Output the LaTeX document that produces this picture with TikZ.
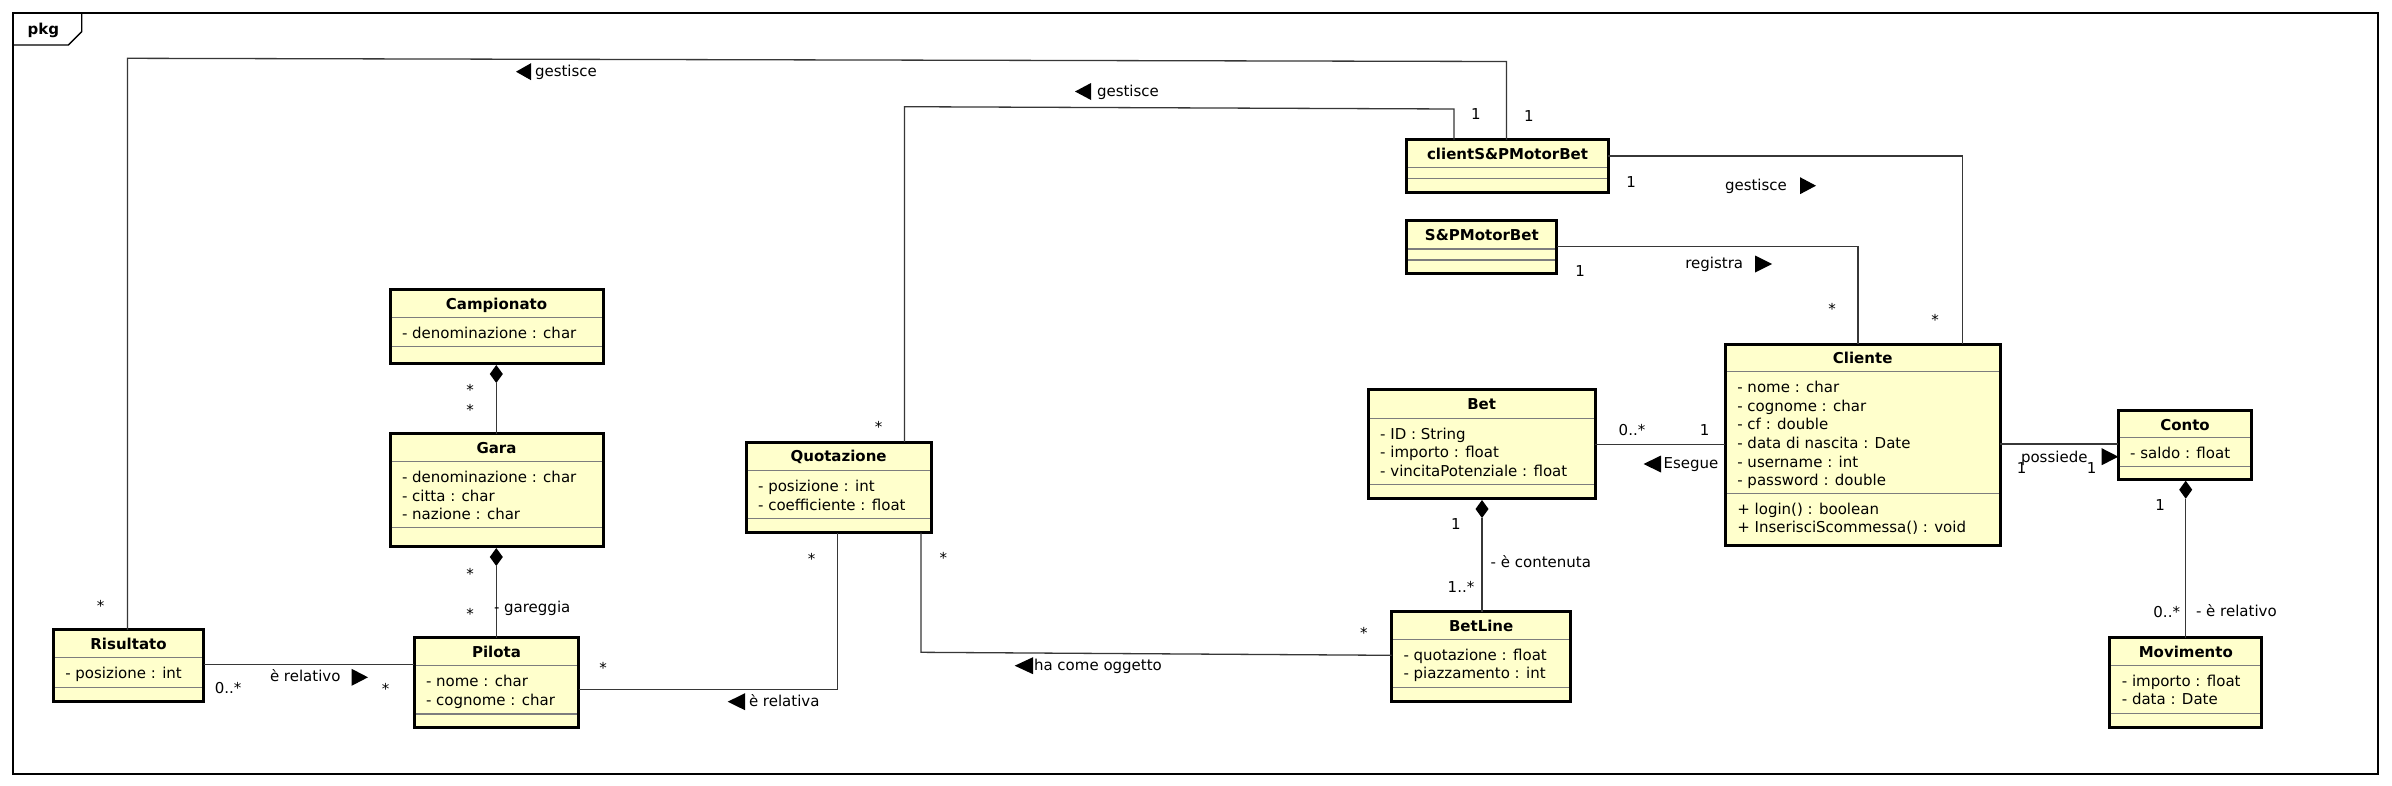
\documentclass[tikz,border=0pt]{standalone}
\usepackage{fontspec}
\setmainfont{DejaVu Sans}
\definecolor{clsyellow}{RGB}{255,255,204}
\definecolor{connc}{RGB}{55,55,55}
\definecolor{sepc}{RGB}{125,125,125}
\tikzset{
  txt/.style={inner sep=0pt, outer sep=0pt, font=\fontsize{15}{18.6}\selectfont},
  clsbox/.style={draw=black, line width=3pt, fill=clsyellow, inner sep=0pt, outer sep=0pt},
  sepline/.style={draw=sepc, line width=1.3pt},
  conn/.style={draw=connc, line width=1.3pt},
  ttl/.style={txt, anchor=base, font=\fontsize{15}{18.6}\selectfont\bfseries},
  attr/.style={txt, anchor=base west},
  lbl/.style={txt, anchor=base},
  lblw/.style={txt, anchor=base west},
  lble/.style={txt, anchor=base east},
  frameline/.style={draw=black, line width=1.4pt},
}
\newcommand\umlclass[8]{%
  \node[clsbox, anchor=north west, minimum width={#4-#2-3}, minimum height={#5-#3-3}] (#1) at ({#2+1.5},{#3+1.5}) {};
  \draw[sepline] ({#2+3},#6) -- ({#4-3},#6);
  \draw[sepline] ({#2+3},#7) -- ({#4-3},#7);
  \node[ttl] (#1-t) at ({(#2+#4)/2},{#3+21}) {#8};
  \xdef\curL{#2}\xdef\curA{#6}\xdef\curO{#7}%
}
\newcommand\umlattrs[2]{%
  \foreach \t [count=\i] in {#2} {\node[attr] (#1-a\i) at ({\curL+13.5},{\curA+21+(\i-1)*18.6}) {\t};}%
}
\newcommand\umlops[2]{%
  \foreach \t [count=\i] in {#2} {\node[attr] (#1-o\i) at ({\curL+13.5},{\curO+21+(\i-1)*18.6}) {\t};}%
}
% triangles: right / left pointing, args x1 x2 yc
\newcommand\triR[3]{\fill[black] (#1,{#3-8.5}) -- (#2,#3) -- (#1,{#3+8.5}) -- cycle;}
\newcommand\triL[3]{\fill[black] (#2,{#3-8.5}) -- (#1,#3) -- (#2,{#3+8.5}) -- cycle;}
% diamond: x, top
\newcommand\diam[2]{\fill[black] (#1,#2) -- ({#1+6.5},{#2+9}) -- (#1,{#2+18}) -- ({#1-6.5},{#2+9}) -- cycle;}

\begin{document}
\begin{tikzpicture}[x=1pt,y=-1pt]
\useasboundingbox (0,0) rectangle (2392,785);
\fill[white] (0,0) rectangle (2392,785);
% package frame
\draw[frameline] (13,13) rectangle (2378,774);
\draw[frameline] (13,45) -- (68.3,45) -- (81.7,31.7) -- (81.7,13);
\node[txt, anchor=base west, font=\fontsize{15}{18.6}\selectfont\bfseries] (pkg) at (27.7,34.5) {pkg};

% classes
\umlclass{camp}{388.5}{288.3}{604.5}{365}{317.3}{346.7}{Campionato}
\umlattrs{camp}{- denominazione : char}
\umlclass{gara}{388.5}{432.3}{604.5}{548}{461.7}{527.3}{Gara}
\umlattrs{gara}{- denominazione : char, - citta : char, - nazione : char}
\umlclass{pilota}{412.5}{636}{580.4}{729}{665.7}{714}{Pilota}
\umlattrs{pilota}{- nome : char, - cognome : char}
\umlclass{risul}{51.8}{628.3}{205.2}{703.3}{657.3}{687.3}{Risultato}
\umlattrs{risul}{- posizione : int}
\umlclass{quot}{744.6}{440.7}{932.6}{534}{470.7}{518.7}{Quotazione}
\umlattrs{quot}{- posizione : int, - coefficiente : float}
\umlclass{cspmb}{1405.3}{138.3}{1609.8}{194}{167.7}{178.3}{clientS\&PMotorBet}
\umlclass{spmb}{1405.3}{219.3}{1558.4}{275}{249}{260}{S\&PMotorBet}
\umlclass{bet}{1366.7}{388.3}{1596.6}{500}{418.3}{484.3}{Bet}
\umlattrs{bet}{- ID : String, - importo : float, - vincitaPotenziale : float}
\umlclass{cliente}{1723.8}{342.7}{2001.5}{546.7}{371.7}{493.3}{Cliente}
\umlattrs{cliente}{- nome : char, - cognome : char, - cf : double, - data di nascita : Date, - username : int, - password : double}
\umlops{cliente}{+ login() : boolean, + InserisciScommessa() : void}
\umlclass{betline}{1390}{610}{1572.3}{702.7}{639.3}{687.3}{BetLine}
\umlattrs{betline}{- quotazione : float, - piazzamento : int}
\umlclass{conto}{2116.7}{409}{2253.3}{480.7}{437.7}{466.7}{Conto}
\umlattrs{conto}{- saldo : float}
\umlclass{movim}{2108.3}{636}{2263.3}{729.3}{665.3}{713.3}{Movimento}
\umlattrs{movim}{- importo : float, - data : Date}

% bend coordinates
\coordinate (ra1) at (127.5,58.3);
\coordinate (ra2) at (1506.5,61.5);
\coordinate (qb1) at (904.5,106.7);
\coordinate (qb2) at (1454,109);
\coordinate (cc1) at (1962.4,156);
\coordinate (sd1) at (1858,246.7);
\coordinate (be1) at (0,444.3);
\coordinate (cf1) at (0,444);
\coordinate (qi1) at (921,652.3);
\coordinate (qi2) at (0,655.3);
\coordinate (qj1) at (837.5,689.3);
\coordinate (rk1) at (0,664.3);
\coordinate (cdb) at (496.3,383);
\coordinate (gdb) at (496.3,566);
\coordinate (bdb) at (1482,518);
\coordinate (kdb) at (2185.7,498.7);

% connectors
\draw[conn] (risul.north -| ra1) -- (ra1) -- (ra2) -- (cspmb.north -| ra2);
\draw[conn] (quot.north -| qb1) -- (qb1) -- (qb2) -- (cspmb.north -| qb2);
\draw[conn] (cspmb.east |- cc1) -- (cc1) -- (cliente.north -| cc1);
\draw[conn] (spmb.east |- sd1) -- (sd1) -- (cliente.north -| sd1);
\draw[conn] (bet.east |- be1) -- (cliente.west |- be1);
\draw[conn] (cliente.east |- cf1) -- (conto.west |- cf1);
\draw[conn] (quot.south -| qi1) -- (qi1) -- (betline.west |- qi2);
\draw[conn] (quot.south -| qj1) -- (qj1) -- (pilota.east |- qj1);
\draw[conn] (risul.east |- rk1) -- (pilota.west |- rk1);
\draw[conn] (cdb) -- (gara.north -| cdb);
\draw[conn] (gdb) -- (pilota.north -| gdb);
\draw[conn] (bdb) -- (betline.north -| bdb);
\draw[conn] (kdb) -- (movim.north -| kdb);

% composition diamonds
\diam{496.3}{365}
\diam{496.3}{548}
\diam{1482}{500}
\diam{2185.7}{480.7}

% labels: Risultato - clientS&PMotorBet
\triL{516}{531}{71.7}
\node[lblw] (l1) at (535,76.2) {gestisce};
\node[lbl] (m1) at (100.7,611.3) {*};
\node[lbl] (m2) at (1529,121.2) {1};
% Quotazione - clientS&PMotorBet
\triL{1075}{1091}{91.5}
\node[lblw] (l2) at (1097,96) {gestisce};
\node[lbl] (m3) at (878.6,432) {*};
\node[lbl] (m4) at (1476,119.5) {1};
% clientS&PMotorBet - Cliente
\node[lbl] (m5) at (1631,187.2) {1};
\node[lblw] (l3) at (1725,190.2) {gestisce};
\triR{1800}{1816}{185.7}
\node[lbl] (m6) at (1935,325.7) {*};
% S&PMotorBet - Cliente
\node[lbl] (m7) at (1580,276.5) {1};
\node[lblw] (l4) at (1685.3,268.5) {registra};
\triR{1755}{1772}{264}
\node[lbl] (m8) at (1832,314.7) {*};
% Bet - Cliente
\node[lbl] (m9) at (1632,435.5) {0..*};
\node[lbl] (m10) at (1704.6,435.5) {1};
\triL{1643.5}{1661}{464}
\node[lblw] (l5) at (1663.6,468.5) {Esegue};
% Cliente - Conto
\node[lblw] (l6) at (2021,462.8) {possiede};
\triR{2101.7}{2118.3}{456.7}
\node[lbl] (m11) at (2021.7,473.8) {1};
\node[lbl] (m12) at (2091.7,473.8) {1};
% Conto - Movimento
\node[lbl] (m13) at (2160,510.5) {1};
\node[lble] (m14) at (2180,617.2) {0..*};
\node[lblw] (l7) at (2196,616.2) {- è relativo};
% Bet - BetLine
\node[lbl] (m15) at (1456,529) {1};
\node[lble] (m16) at (1474.3,592.2) {1..*};
\node[lblw] (l8) at (1490.7,567.2) {- è contenuta};
% Quotazione - BetLine
\node[lbl] (m17) at (943.3,563.7) {*};
\node[lbl] (m18) at (1363.8,638) {*};
\triL{1014.7}{1033}{665.7}
\node[lblw] (l9) at (1034,670.2) {ha come oggetto};
% Quotazione - Pilota
\node[lbl] (m19) at (811.6,564.7) {*};
\node[lbl] (m20) at (603,673) {*};
\triL{727.7}{745}{701.7}
\node[lblw] (l10) at (749,706.2) {è relativa};
% Risultato - Pilota
\node[lblw] (l11) at (270,681.8) {è relativo};
\triR{351.6}{368}{677.3}
\node[lblw] (m21) at (214.8,693.8) {0..*};
\node[lbl] (m22) at (385.6,694.7) {*};
% Campionato - Gara
\node[lbl] (m23) at (470,395) {*};
\node[lbl] (m24) at (470,415) {*};
% Gara - Pilota
\node[lbl] (m25) at (470,579.7) {*};
\node[lbl] (m26) at (470,619.7) {*};
\node[lblw] (l12) at (494,612.2) {- gareggia};
\end{tikzpicture}
\end{document}
